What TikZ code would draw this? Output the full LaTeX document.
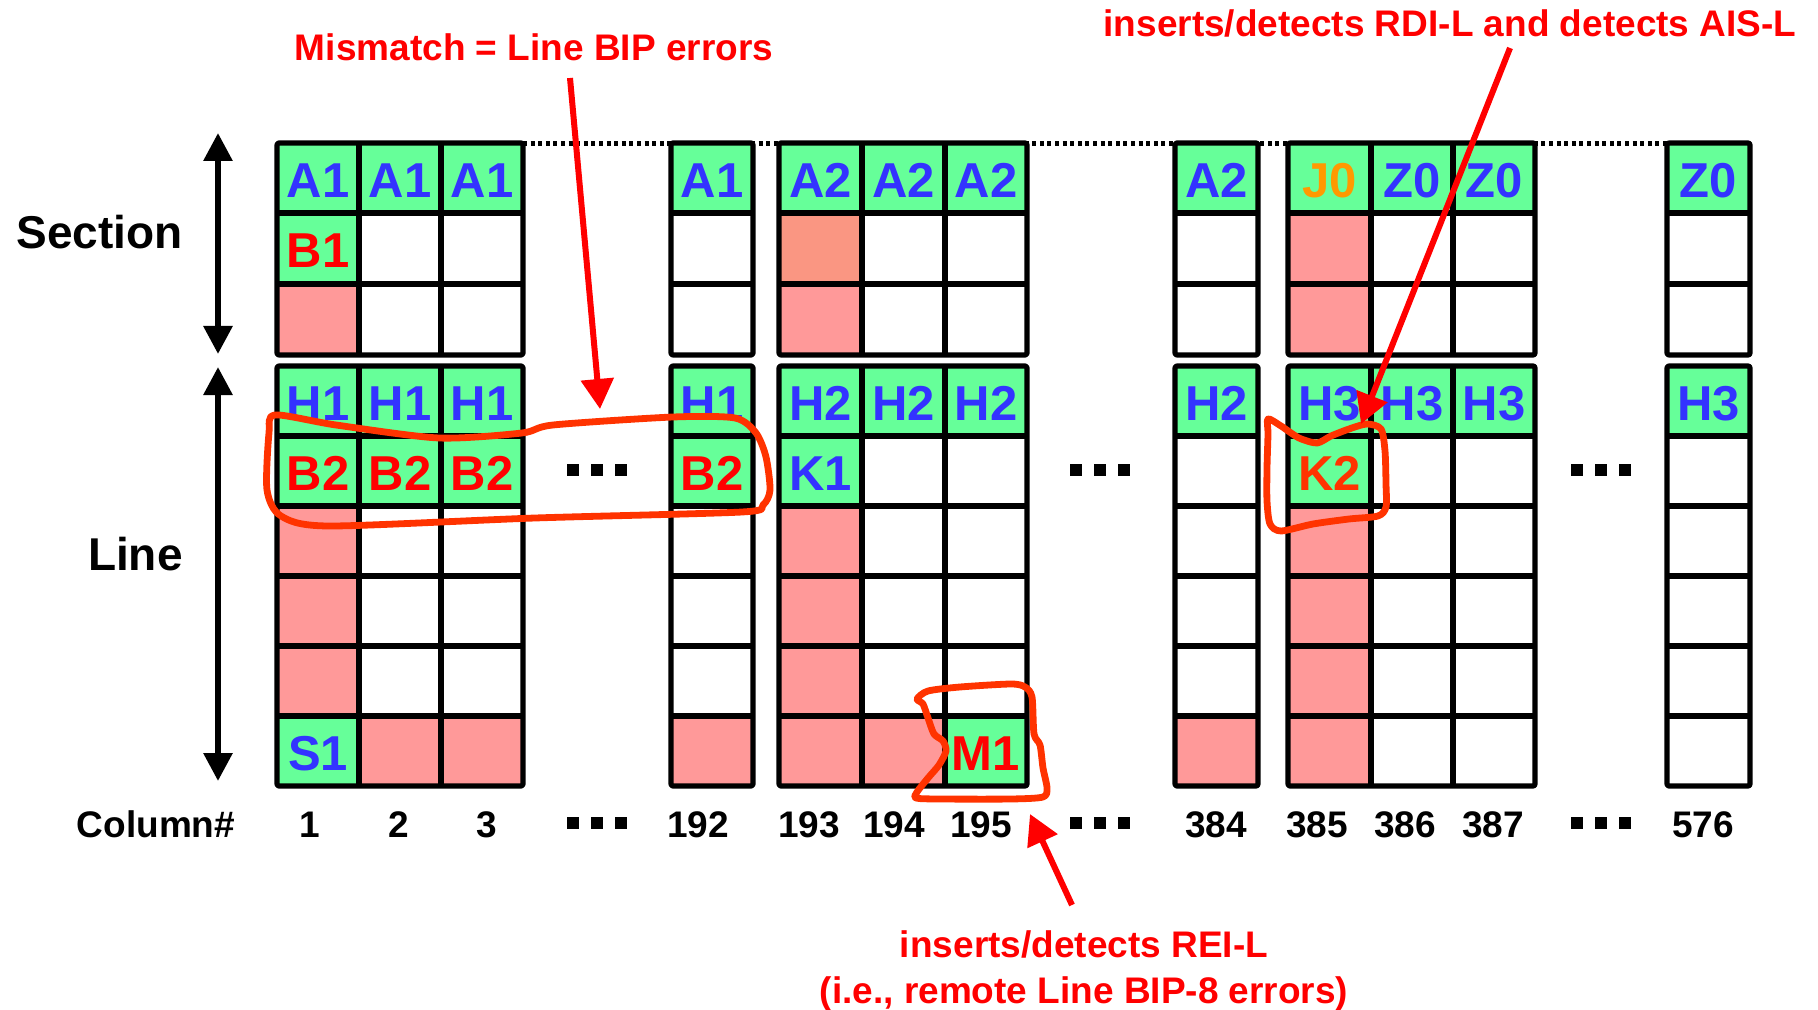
\documentclass[tikz,border=0pt]{standalone}
\usepackage{fontspec}
\setmainfont{Liberation Sans}
\usetikzlibrary{arrows.meta}
\definecolor{cg}{RGB}{102,255,153}
\definecolor{cp}{RGB}{255,153,153}
\definecolor{cs}{RGB}{250,150,130}
\definecolor{cb}{RGB}{51,51,255}
\definecolor{cr}{RGB}{255,0,0}
\definecolor{co}{RGB}{255,153,0}
\definecolor{ck}{RGB}{255,51,0}
\begin{document}
\begin{tikzpicture}[x=0.5pt,y=-0.5pt,
  cellline/.style={line width=2.6pt, draw=black, line join=round},
  lab/.style={inner sep=0pt, anchor=base, font=\fontsize{24.5}{28}\selectfont\bfseries},
  sidelab/.style={inner sep=0pt, anchor=base east, font=\fontsize{23}{27}\selectfont\bfseries},
  smalltxt/.style={inner sep=0pt, anchor=base, font=\fontsize{18.5}{22}\selectfont\bfseries},
  ann/.style={smalltxt, text=cr},
  markloop/.style={draw=ck, line width=3.4pt, line join=round},
  redarrow/.style={draw=cr, line width=3pt, -{Triangle[width=16pt,length=15pt]}},
  dblarrow/.style={draw=black, line width=3pt, {Triangle[width=14pt,length=14pt]}-{Triangle[width=14pt,length=14pt]}},
  dotline/.style={line width=2.5pt, dash pattern=on 2pt off 1.8pt}]
\fill[white] (0,0) rectangle (1818,1010);
\path[use as bounding box] (0,0) rectangle (1818,1010);

% dotted top line
\draw[dotline] (523,143.5) -- (1667,143.5);

% green fills
\foreach \xa/\xb in {277/523,671/753,779/1027,1175/1258,1288/1535,1667/1750}{
  \fill[cg] (\xa,143) rectangle (\xb,213);
  \fill[cg] (\xa,366) rectangle (\xb,436);
}
\foreach \xa/\xb/\ya/\yb in {277/359/213/284, 277/523/436/506, 671/753/436/506,
  779/862/436/506, 1288/1371/436/506, 277/359/716/786, 945/1027/716/786}
  \fill[cg] (\xa,\ya) rectangle (\xb,\yb);
% pink fills
\foreach \xa/\xb/\ya/\yb in {277/359/284/355, 277/359/506/716, 359/523/716/786,
  671/753/716/786, 779/862/284/355, 779/862/506/786, 862/945/716/786,
  1175/1258/716/786, 1288/1371/213/355, 1288/1371/506/786}
  \fill[cp] (\xa,\ya) rectangle (\xb,\yb);
\fill[cs] (779,213) rectangle (862,284);

% grid lines
\foreach \xa/\xb in {277/523,671/753,779/1027,1175/1258,1288/1535,1667/1750}{
  \foreach \yy in {213,284,436,506,576,646,716}
    \draw[cellline] (\xa,\yy) -- (\xb,\yy);
  \draw[cellline, rounded corners=1pt] (\xa,143) rectangle (\xb,355);
  \draw[cellline, rounded corners=1pt] (\xa,366) rectangle (\xb,786);
}
\foreach \xx in {359,441,862,945,1371,1453}{
  \draw[cellline] (\xx,143) -- (\xx,355);
  \draw[cellline] (\xx,366) -- (\xx,786);
}

% cell labels
\node[lab,text=cb] (A1a) at (318,197.5) {A1};
\node[lab,text=cb] (A1b) at (400,197.5) {A1};
\node[lab,text=cb] (A1c) at (482,197.5) {A1};
\node[lab,text=cb] (A1d) at (712,197.5) {A1};
\node[lab,text=cb] (A2a) at (820.5,197.5) {A2};
\node[lab,text=cb] (A2b) at (903.5,197.5) {A2};
\node[lab,text=cb] (A2c) at (986,197.5) {A2};
\node[lab,text=cb] (A2d) at (1216.5,197.5) {A2};
\node[lab,text=co] (J0) at (1329.5,197.5) {J0};
\node[lab,text=cb] (Z0a) at (1412,197.5) {Z0};
\node[lab,text=cb] (Z0b) at (1494,197.5) {Z0};
\node[lab,text=cb] (Z0c) at (1708.5,197.5) {Z0};
\node[lab,text=cr] (B1) at (318,267.5) {B1};
\node[lab,text=cb] (H1a) at (318,420.5) {H1};
\node[lab,text=cb] (H1b) at (400,420.5) {H1};
\node[lab,text=cb] (H1c) at (482,420.5) {H1};
\node[lab,text=cb] (H1d) at (712,420.5) {H1};
\node[lab,text=cb] (H2a) at (820.5,420.5) {H2};
\node[lab,text=cb] (H2b) at (903.5,420.5) {H2};
\node[lab,text=cb] (H2c) at (986,420.5) {H2};
\node[lab,text=cb] (H2d) at (1216.5,420.5) {H2};
\node[lab,text=cb] (H3a) at (1329.5,420.5) {H3};
\node[lab,text=cb] (H3b) at (1412,420.5) {H3};
\node[lab,text=cb] (H3c) at (1494,420.5) {H3};
\node[lab,text=cb] (H3d) at (1708.5,420.5) {H3};
\node[lab,text=cr] (B2a) at (318,490.5) {B2};
\node[lab,text=cr] (B2b) at (400,490.5) {B2};
\node[lab,text=cr] (B2c) at (482,490.5) {B2};
\node[lab,text=cr] (B2d) at (712,490.5) {B2};
\node[lab,text=cb] (K1) at (820.5,490.5) {K1};
\node[lab,text=ck] (K2) at (1329.5,490.5) {K2};
\node[lab,text=cb] (S1) at (318,770.5) {S1};
\node[lab,text=cr] (M1) at (986,770.5) {M1};

% row group labels and arrows
\node[sidelab] (sect) at (183,249) {Section};
\node[sidelab] (line) at (183,570) {Line};
\coordinate (secT) at (218,133);
\coordinate (secB) at (218,354);
\coordinate (lineT) at (218,367);
\coordinate (lineB) at (218,781);
\draw[dblarrow] (secT) -- (secB);
\draw[dblarrow] (lineT) -- (lineB);

% ellipsis squares
\foreach \cx in {597,1100,1601}{
  \foreach \cy in {470,823}{
    \foreach \dx in {-24,0,24}
      \fill[black] (\cx+\dx-6,\cy-6) rectangle (\cx+\dx+6,\cy+6);
  }
}

% column numbers
\node[smalltxt] (colh) at (156,837) {Column\#};
\node[smalltxt] (n1) at (310,837) {1};
\node[smalltxt] (n2) at (399,837) {2};
\node[smalltxt] (n3) at (487,837) {3};
\node[smalltxt] (n192) at (698,837) {192};
\node[smalltxt] (n193) at (809,837) {193};
\node[smalltxt] (n194) at (894,837) {194};
\node[smalltxt] (n195) at (981,837) {195};
\node[smalltxt] (n384) at (1216,837) {384};
\node[smalltxt] (n385) at (1317,837) {385};
\node[smalltxt] (n386) at (1405,837) {386};
\node[smalltxt] (n387) at (1493,837) {387};
\node[smalltxt] (n576) at (1703,837) {576};

% hand-drawn loops
\draw[markloop] plot[smooth cycle, tension=0.45] coordinates {(275,415) (336,425) (439,438) (522,433) (553,425) (673,417) (735,418) (756,433) (766,457) (770,490) (763,505) (742,512) (535,518) (329,526) (281,516) (267,490) (269,433)};
\draw[markloop] plot[smooth cycle, tension=0.45] coordinates {(1268,419) (1281,426) (1299,438) (1317,443) (1331,436) (1349,429) (1367,424) (1381,429) (1385,451) (1386,484) (1386,507) (1378,516) (1349,519) (1313,524) (1281,531) (1270,524) (1267,501) (1267,468) (1268,434)};
\draw[markloop] plot[smooth cycle, tension=0.45] coordinates {(917,699) (928,691) (960,687) (1011,684) (1025,687) (1032,697) (1034,734) (1040,745) (1043,768) (1047,788) (1043,797) (1011,799) (939,799) (916,798) (917,792) (928,778) (939,765) (946,751) (943,741) (934,734) (928,718) (923,704)};

% annotations
\node[ann] (mm) at (534,61) {Mismatch = Line BIP errors};
\node[ann] (rdi) at (1450,37) {inserts/detects RDI-L and detects AIS-L};
\node[ann] (rei1) at (1084,957) {inserts/detects REI-L};
\node[ann] (rei2) at (1084,1003) {(i.e., remote Line BIP-8 errors)};
\coordinate (mmtail) at (570,78);
\coordinate (mmtip) at (600,409);
\coordinate (rditail) at (1510,48);
\coordinate (rditip) at (1361,424);
\coordinate (reitail) at (1072,905);
\coordinate (reitip) at (1030,814);
\draw[redarrow] (mmtail) -- (mmtip);
\draw[redarrow] (rditail) -- (rditip);
\draw[redarrow] (reitail) -- (reitip);
\end{tikzpicture}
\end{document}
